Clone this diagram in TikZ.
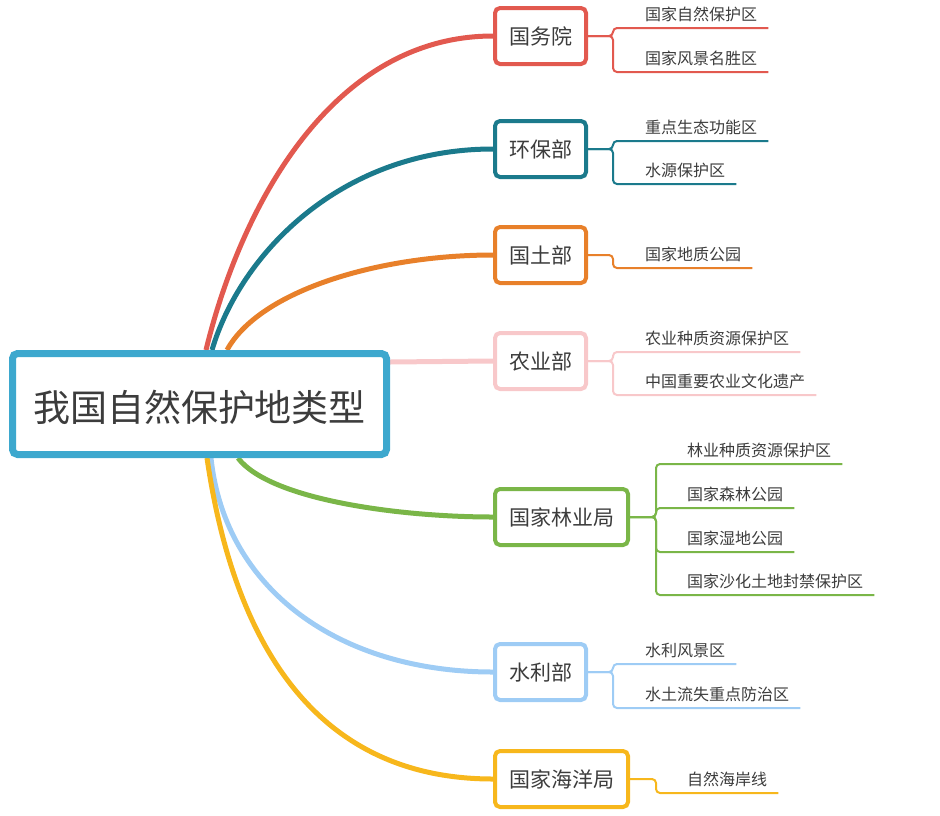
\documentclass[tikz,border=0pt]{standalone}
\usepackage{fontspec}
\setmainfont{Noto Sans CJK SC}
\usepackage{tikz}
\usepackage{xcolor}
\usetikzlibrary{positioning, backgrounds}

\definecolor{rootblue}{RGB}{61,168,206}
\definecolor{gwyred}{RGB}{226,89,79}
\definecolor{hbbteal}{RGB}{27,122,140}
\definecolor{gtborange}{RGB}{232,128,42}
\definecolor{nybpink}{RGB}{248,200,202}
\definecolor{lyjgreen}{RGB}{122,182,72}
\definecolor{slbblue}{RGB}{158,204,245}
\definecolor{hyjyellow}{RGB}{247,183,28}
\definecolor{txtgray}{RGB}{60,60,60}

\begin{document}
\begin{tikzpicture}[x=1pt, y=-1pt,
            root/.style={draw=rootblue, line width=7pt, fill=white, rounded corners=5pt, minimum width=374pt, minimum height=101pt, text=txtgray, font=\fontsize{37}{40}\selectfont, text height=35pt, text depth=0pt},
            dept/.style={draw=#1, line width=4pt, fill=white, rounded corners=5pt, minimum height=56pt, inner xsep=14pt, anchor=west, text=txtgray, font=\fontsize{21}{24}\selectfont, text height=18.5pt, text depth=2.5pt},
            area/.style={anchor=south west, inner xsep=11pt, inner ysep=5pt, text=txtgray, font=\fontsize{16}{18}\selectfont, text height=14pt, text depth=2pt},
            trunk/.style={draw=#1, line width=5pt},
            twig/.style={draw=#1, line width=2pt, rounded corners=4pt}]
            \useasboundingbox (0, 0) rectangle (940, 815);

            \node[root] (root) at (199.5, 404) {我国自然保护地类型};

            \node[dept=gwyred] (gwy) at (493, 36) {国务院};
            \node[dept=hbbteal] (hbb) at (493, 149) {环保部};
            \node[dept=gtborange] (gtb) at (493, 255) {国土部};
            \node[dept=nybpink] (nyb) at (493, 361) {农业部};
            \node[dept=lyjgreen] (lyj) at (493, 517) {国家林业局};
            \node[dept=slbblue] (slb) at (493, 672) {水利部};
            \node[dept=hyjyellow] (hyj) at (493, 779) {国家海洋局};

            \node[area] (gwy1) at (634, 28) {国家自然保护区};
            \node[area] (gwy2) at (634, 72) {国家风景名胜区};
            \node[area] (hbb1) at (634, 141) {重点生态功能区};
            \node[area] (hbb2) at (634, 184) {水源保护区};
            \node[area] (gtb1) at (634, 268) {国家地质公园};
            \node[area] (nyb1) at (634, 352) {农业种质资源保护区};
            \node[area] (nyb2) at (634, 395) {中国重要农业文化遗产};
            \node[area] (lyj1) at (676, 464) {林业种质资源保护区};
            \node[area] (lyj2) at (676, 508) {国家森林公园};
            \node[area] (lyj3) at (676, 552) {国家湿地公园};
            \node[area] (lyj4) at (676, 595) {国家沙化土地封禁保护区};
            \node[area] (slb1) at (634, 664) {水利风景区};
            \node[area] (slb2) at (634, 708) {水土流失重点防治区};
            \node[area] (hyj1) at (676, 793) {自然海岸线};

            \begin{scope}[on background layer]
                \draw[trunk=gwyred] ([xshift=6.5pt]root.north) .. controls (240, 210) and (330, 36) .. (gwy.west);
                \draw[trunk=hbbteal] ([xshift=12.5pt]root.north) .. controls (240, 255) and (340, 149) .. (hbb.west);
                \draw[trunk=gtborange] ([xshift=27.5pt]root.north) .. controls (260, 290) and (380, 255) .. (gtb.west);
                \draw[trunk=nybpink] ([yshift=42pt]root.east) -- (nyb.west);
                \draw[trunk=lyjgreen] ([xshift=38.5pt]root.south) .. controls (270, 500) and (400, 517) .. (lyj.west);
                \draw[trunk=slbblue] ([xshift=11.5pt]root.south) .. controls (225, 590) and (340, 672) .. (slb.west);
                \draw[trunk=hyjyellow] ([xshift=7.5pt]root.south) .. controls (235, 650) and (320, 779) .. (hyj.west);
            \end{scope}

            \draw[twig=gwyred] (gwy.east) -- ++(25, 0) |- (gwy1.south east);
            \draw[twig=gwyred] (gwy.east) -- ++(25, 0) |- (gwy2.south east);
            \draw[twig=hbbteal] (hbb.east) -- ++(25, 0) |- (hbb1.south east);
            \draw[twig=hbbteal] (hbb.east) -- ++(25, 0) |- (hbb2.south east);
            \draw[twig=gtborange] (gtb.east) -- ++(25, 0) |- (gtb1.south east);
            \draw[twig=nybpink] (nyb.east) -- ++(25, 0) |- (nyb1.south east);
            \draw[twig=nybpink] (nyb.east) -- ++(25, 0) |- (nyb2.south east);
            \draw[twig=lyjgreen] (lyj.east) -- ++(26, 0) |- (lyj1.south east);
            \draw[twig=lyjgreen] (lyj.east) -- ++(26, 0) |- (lyj2.south east);
            \draw[twig=lyjgreen] (lyj.east) -- ++(26, 0) |- (lyj3.south east);
            \draw[twig=lyjgreen] (lyj.east) -- ++(26, 0) |- (lyj4.south east);
            \draw[twig=slbblue] (slb.east) -- ++(25, 0) |- (slb1.south east);
            \draw[twig=slbblue] (slb.east) -- ++(25, 0) |- (slb2.south east);
            \draw[twig=hyjyellow] (hyj.east) -- ++(26, 0) |- (hyj1.south east);
        \end{tikzpicture}
\end{document}
